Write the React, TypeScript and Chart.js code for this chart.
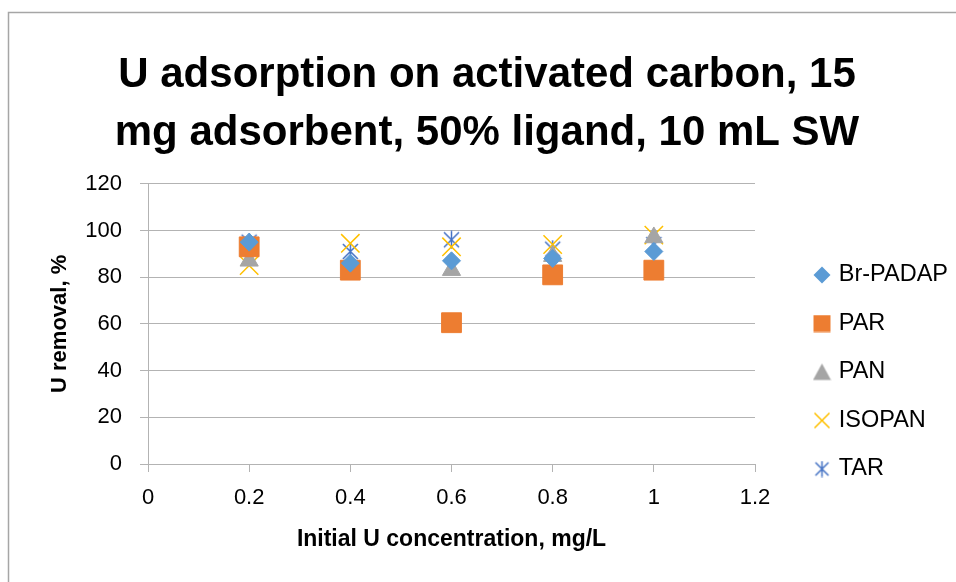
import React, { useEffect, useRef } from "react";
import { Chart, registerables } from "chart.js";

Chart.register(...registerables);

const concentrations = [0.2, 0.4, 0.6, 0.8, 1.0];
const brPadap = [95, 86, 87, 88, 91];
const par = [93, 83, 60.5, 81, 83];
const pan = [87, 84, 83, 89, 97];
const isopan = [85, 94.5, 93, 94, 98];
const tar = [95, 91, 96, 92, 94];

const seriesNames = ["Br-PADAP", "PAR", "PAN", "ISOPAN", "TAR"];
const seriesColors = ["#5B9BD5", "#ED7D31", "#A5A5A5", "#FFC000", "#4472C4"];
const titleLines = ["U adsorption on activated carbon, 15", "mg adsorbent, 50% ligand, 10 mL SW"];
const xTitle = "Initial U concentration, mg/L";
const yTitle = "U removal, %";

const FONT = "'Liberation Sans', Arial, sans-serif";

function makeIcon(kind: string, color: string, size: number) {
  const c = document.createElement("canvas");
  c.width = size;
  c.height = size;
  const ctx = c.getContext("2d")!;
  ctx.fillStyle = color;
  ctx.strokeStyle = color;
  ctx.lineWidth = 1.5;
  const s = size;
  ctx.beginPath();
  if (kind === "diamond") {
    ctx.moveTo(s / 2, 0.5);
    ctx.lineTo(s - 0.5, s / 2);
    ctx.lineTo(s / 2, s - 0.5);
    ctx.lineTo(0.5, s / 2);
    ctx.closePath();
    ctx.fill();
  } else if (kind === "square") {
    ctx.rect(0.5, 0.5, s - 1, s - 1);
    ctx.fill();
  } else if (kind === "triangle") {
    ctx.moveTo(s / 2, 1);
    ctx.lineTo(s - 0.5, s - 1.5);
    ctx.lineTo(0.5, s - 1.5);
    ctx.closePath();
    ctx.fill();
  } else if (kind === "x") {
    ctx.moveTo(1.5, 1.5);
    ctx.lineTo(s - 1.5, s - 1.5);
    ctx.moveTo(s - 1.5, 1.5);
    ctx.lineTo(1.5, s - 1.5);
    ctx.stroke();
  } else {
    const m = 2;
    ctx.moveTo(m, m);
    ctx.lineTo(s - m, s - m);
    ctx.moveTo(s - m, m);
    ctx.lineTo(m, s - m);
    ctx.moveTo(s / 2, m - 1.5);
    ctx.lineTo(s / 2, s - m + 1.5);
    ctx.stroke();
  }
  return c;
}

const borderPlugin = {
  id: "outerBorder",
  beforeDraw(chart: any) {
    const ctx = chart.ctx;
    ctx.save();
    ctx.fillStyle = "#ffffff";
    ctx.fillRect(0, 0, chart.width, chart.height);
    ctx.strokeStyle = "#a6a6a6";
    ctx.lineWidth = 1.5;
    ctx.beginPath();
    ctx.moveTo(8.5, chart.height + 5);
    ctx.lineTo(8.5, 12.5);
    ctx.lineTo(chart.width + 5, 12.5);
    ctx.stroke();
    ctx.restore();
  },
};

export default function App() {
  const ref = useRef<HTMLCanvasElement | null>(null);
  useEffect(() => {
    document.body.style.margin = "0";
    const star = makeIcon("star", seriesColors[4], 19);
    const legendIcons = [
      makeIcon("diamond", seriesColors[0], 18),
      makeIcon("square", seriesColors[1], 18),
      makeIcon("triangle", seriesColors[2], 19),
      makeIcon("x", seriesColors[3], 18),
      makeIcon("star", seriesColors[4], 17),
    ];
    const toPts = (arr: number[]) => arr.map((v, i) => ({ x: concentrations[i], y: v }));
    const chart = new Chart(ref.current!, {
      type: "scatter",
      data: {
        datasets: [
          { label: seriesNames[0], data: toPts(brPadap), pointStyle: "rectRot", pointRadius: 9, backgroundColor: seriesColors[0], borderColor: seriesColors[0], borderWidth: 1 },
          { label: seriesNames[1], data: toPts(par), pointStyle: "rect", pointRadius: 14, backgroundColor: seriesColors[1], borderColor: seriesColors[1], borderWidth: 1 },
          { label: seriesNames[2], data: toPts(pan), pointStyle: "triangle", pointRadius: 10.5, backgroundColor: seriesColors[2], borderColor: seriesColors[2], borderWidth: 1 },
          { label: seriesNames[3], data: toPts(isopan), pointStyle: "crossRot", pointRadius: 13, backgroundColor: seriesColors[3], borderColor: seriesColors[3], borderWidth: 1.5 },
          { label: seriesNames[4], data: toPts(tar), pointStyle: star as any, pointRadius: 10, backgroundColor: seriesColors[4], borderColor: seriesColors[4], borderWidth: 1.5 },
        ],
      },
      options: {
        responsive: false,
        animation: false,
        layout: { padding: { left: 18, right: 0, top: 0, bottom: 0 } },
        plugins: {
          tooltip: { enabled: false },
          title: {
            display: true,
            text: titleLines,
            color: "#000000",
            font: { family: FONT, size: 42, weight: "bold", lineHeight: 1.39 },
            padding: { top: 46, bottom: 21 },
          },
          legend: {
            position: "right",
            maxWidth: 164,
            title: {
              display: true,
              text: " ",
              font: { family: FONT, size: 10, lineHeight: 1 },
              padding: { top: 0, bottom: 152 },
            },
            labels: {
              usePointStyle: true,
              pointStyleWidth: 10,
              boxHeight: 17,
              padding: 25,
              color: "#000000",
              font: { family: FONT, size: 23.5 },
              generateLabels: (c: any) =>
                Chart.defaults.plugins.legend.labels.generateLabels(c).map((l: any, i: number) => ({
                  ...l,
                  pointStyle: legendIcons[i],
                })),
            },
          },
        },
        scales: {
          x: {
            type: "linear",
            min: 0,
            max: 1.2,
            afterFit: (s: any) => {
              s.height = 118;
            },
            ticks: {
              stepSize: 0.2,
              color: "#000000",
              font: { family: FONT, size: 22 },
              padding: 13,
              callback: (v: any) => String(Number(Number(v).toFixed(1))),
            },
            grid: { drawOnChartArea: false, drawTicks: true, tickLength: 8, color: "#b3b3b3" },
            border: { color: "#b3b3b3", width: 1 },
            title: {
              display: true,
              text: xTitle,
              color: "#000000",
              font: { family: FONT, size: 23, weight: "bold" },
              padding: { top: 0, bottom: 29 },
            },
          },
          y: {
            type: "linear",
            min: 0,
            max: 120,
            afterFit: (s: any) => {
              s.width = 130;
            },
            ticks: {
              stepSize: 20,
              color: "#000000",
              font: { family: FONT, size: 22 },
              padding: 18,
            },
            grid: { color: "#b3b3b3", tickLength: 8, drawTicks: true },
            border: { color: "#b3b3b3", width: 1 },
            title: {
              display: true,
              text: yTitle,
              color: "#000000",
              font: { family: FONT, size: 22, weight: "bold" },
              padding: { top: 29, bottom: 0 },
            },
          },
          gap: {
            type: "linear",
            position: "right",
            display: true,
            afterFit: (s: any) => {
              s.width = 37;
            },
            grid: { display: false, drawTicks: false },
            ticks: { display: false },
            border: { display: false },
          },
        },
      },
      plugins: [borderPlugin],
    });
    return () => chart.destroy();
  }, []);
  return <canvas ref={ref} width={956} height={582} style={{ display: "block" }} />;
}
